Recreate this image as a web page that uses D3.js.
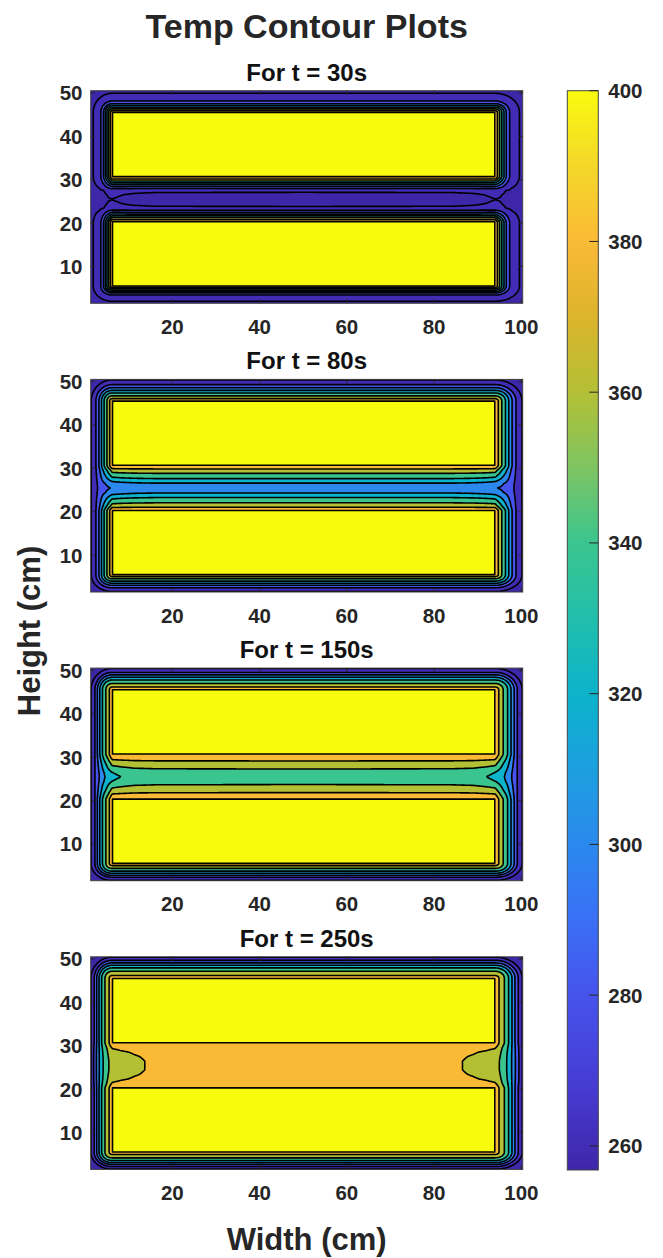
<!DOCTYPE html>
<html><head><meta charset="utf-8">
<script src="https://cdn.jsdelivr.net/npm/d3@7"></script>
<style>body{margin:0;background:#fff}svg{display:block}</style>
</head><body>
<svg id="chart" width="663" height="1258"></svg>
<script>
// ---------------- data ----------------
const panelTitles = ["For t = 30s", "For t = 80s", "For t = 150s", "For t = 250s"];
const xTickValues = [20, 40, 60, 80, 100];
const yTickValues = [10, 20, 30, 40, 50];
const colorbarTicks = [260, 280, 300, 320, 340, 360, 380, 400];
const contourLevels = [260, 280, 300, 320, 340, 360, 380, 400];
const tempRange = [256.8, 400];
const xExtent = [1.3, 100.3];
const yExtent = [1.5, 50.5];
const heaterX = [6.2, 94.0];
const heaterBottomY = [5.5, 20.3];
const heaterTopY = [30.6, 45.5];
const heaterTemp = 400;

// temperature across an outer margin: wall (0) -> heater edge (5)
const marginPos = [0, 1, 2, 3, 4, 4.5, 5];
const marginT30 = [257, 262, 268, 300, 350, 375, 400];
const marginT80 = [258, 274, 302, 336, 366, 382, 400];
const marginT150 = [258, 280, 316, 348, 370, 384, 400];
const marginT250 = [258, 285, 322, 354, 372, 385, 400];

// temperature across the gap between heaters: heater edge (0) -> gap centre (5)
const gapAcrossPos = [0, 1, 2, 3, 4, 5];
const gapAcrossT30 = [400, 355, 305, 261, 258.6, 258];
const gapAcrossT80 = [400, 372, 355, 338, 318, 310];
const gapAcrossT150 = [400, 386, 373, 363, 352, 348];
const gapAcrossT250 = [400, 392, 388, 386, 385, 385];

// temperature along the gap centre line: side wall (0) -> heater end (5) -> middle
const gapAlongPos = [0, 1, 2, 3, 4, 5, 7, 10, 15, 49];
const gapAlongT30 = [257, 257.5, 258, 259, 259.8, 259.95, 259.5, 258.6, 258.1, 258];
const gapAlongT80 = [258, 272, 285, 293, 298, 301, 305, 308, 310, 310];
const gapAlongT150 = [258, 280, 300, 316, 328, 335, 340, 345, 347, 348];
const gapAlongT250 = [258, 290, 320, 342, 358, 366, 372, 377, 383, 385];

// colour map (parula-like) keyed by temperature
const colorStopTemps = [256.8, 262, 270, 280, 290, 300, 310, 320, 330, 340, 350, 360, 370, 380, 390, 400];
const colorStopHex = ["#3e26a8", "#4330bd", "#4640d8", "#4653ec", "#3a6ff6", "#2b89ee", "#1ca0df", "#0cb3cb",
                      "#22bfac", "#3ac58e", "#7ec462", "#b4c034", "#dcb42c", "#fbba36", "#f4d62a", "#f9fb0e"];

// ---------------- layout / style ----------------
const fontFamily = "'Liberation Sans', Arial, Helvetica, sans-serif";
const axLeft = 90.7, axWidth = 432, axHeight = 212.6;
const panelTop0 = 90.7, panelStep = 288.7;
const gridStep = 0.2;
const cornerPower = 2;
const lineWidth = 1.6;
const cb = {x: 567.3, w: 31, top: 90.7, bottom: 1170};

const panels = [
  {title: panelTitles[0], margin: marginT30, across: gapAcrossT30, along: gapAlongT30},
  {title: panelTitles[1], margin: marginT80, across: gapAcrossT80, along: gapAlongT80},
  {title: panelTitles[2], margin: marginT150, across: gapAcrossT150, along: gapAlongT150},
  {title: panelTitles[3], margin: marginT250, across: gapAcrossT250, along: gapAlongT250}
];

const svg = d3.select("#chart");
const colorScale = d3.scaleLinear().domain(colorStopTemps).range(colorStopHex)
  .interpolate(d3.interpolateRgb).clamp(true);

// position relative to heater geometry
function aCoord(x) {
  const [h0, h1] = heaterX, xm = (h0 + h1) / 2;
  if (x <= h0) return 5 * (x - xExtent[0]) / (h0 - xExtent[0]);
  if (x <= xm) return 5 + (x - h0);
  if (x < h1) return 5 + (h1 - x);
  return 5 * (xExtent[1] - x) / (xExtent[1] - h1);
}
function bCoord(y) {
  const [b0, b1] = heaterBottomY, [t0, t1] = heaterTopY, ym = (b1 + t0) / 2;
  if (y <= b0) return 5 * (y - yExtent[0]) / (b0 - yExtent[0]);
  if (y <= b1) return 5 + 15 * (y - b0) / (b1 - b0);
  if (y <= ym) return 20 + 5 * (y - b1) / (ym - b1);
  if (y <= t0) return 20 + 5 * (t0 - y) / (t0 - ym);
  if (y <= t1) return 5 + 15 * (t1 - y) / (t1 - t0);
  return 5 * (yExtent[1] - y) / (yExtent[1] - t1);
}
function makeField(margin, across, along) {
  const Mi = d3.scaleLinear().domain(marginPos).range(margin).clamp(true);
  const GAi = d3.scaleLinear().domain(gapAcrossPos).range(across).clamp(true);
  const GLi = d3.scaleLinear().domain(gapAlongPos).range(along).clamp(true);
  const gc = across[across.length - 1];
  return (x, y) => {
    const a = aCoord(x), b = bCoord(y);
    if (b <= 20) {
      if (b >= 5) return a >= 5 ? heaterTemp : Mi(a);
      if (a >= 5) return Mi(b);
      const dx = 5 - a, dy = 5 - b;
      const d = Math.pow(Math.pow(dx, cornerPower) + Math.pow(dy, cornerPower), 1 / cornerPower);
      return Mi(5 - d);
    }
    const s = (GAi(b - 20) - gc) / (heaterTemp - gc);
    const base = GLi(a);
    const edge = a >= 5 ? heaterTemp : Mi(a);
    return base + (edge - base) * s;
  };
}

const nx = Math.round((xExtent[1] - xExtent[0]) / gridStep) + 1;
const ny = Math.round((yExtent[1] - yExtent[0]) / gridStep) + 1;
const xs = d3.scaleLinear().domain(xExtent).range([axLeft, axLeft + axWidth]);

panels.forEach((pd, i) => {
  const top = panelTop0 + i * panelStep;
  const ys = d3.scaleLinear().domain(yExtent).range([top + axHeight, top]);
  const field = makeField(pd.margin, pd.across, pd.along);
  const values = new Float64Array(nx * ny);
  for (let j = 0; j < ny; j++) {
    const y = yExtent[0] + j * gridStep;
    for (let k = 0; k < nx; k++) values[j * nx + k] = field(xExtent[0] + k * gridStep, y);
  }
  const contours = d3.contours().size([nx, ny]).thresholds(contourLevels)(values);
  const proj = d3.geoTransform({point(gx, gy) {
    this.stream.point(xs(xExtent[0] + (gx - 0.5) * gridStep), ys(yExtent[0] + (gy - 0.5) * gridStep));
  }});
  const path = d3.geoPath(proj);

  const clipId = "clip" + i;
  svg.append("clipPath").attr("id", clipId).append("rect")
    .attr("x", axLeft).attr("y", top).attr("width", axWidth).attr("height", axHeight);
  const g = svg.append("g").attr("clip-path", `url(#${clipId})`);
  g.append("rect").attr("x", axLeft).attr("y", top).attr("width", axWidth).attr("height", axHeight)
    .attr("fill", colorScale(tempRange[0]));
  g.selectAll("path.fill").data(contours).join("path").attr("class", "fill")
    .attr("d", path).attr("fill", d => colorScale(d.value)).attr("stroke", "none");
  g.selectAll("path.line").data(contours).join("path").attr("class", "line")
    .attr("d", path).attr("fill", "none").attr("stroke", "#000").attr("stroke-width", lineWidth)
    .attr("stroke-linejoin", "round");

  // axes box & ticks
  const ax = svg.append("g");
  ax.append("rect").attr("x", axLeft).attr("y", top).attr("width", axWidth).attr("height", axHeight)
    .attr("fill", "none").attr("stroke", "#3a3a3a").attr("stroke-width", 1);
  xTickValues.forEach(v => {
    const x = xs(v);
    ax.append("line").attr("x1", x).attr("x2", x).attr("y1", top + axHeight).attr("y2", top + axHeight - 4)
      .attr("stroke", "#262626");
    ax.append("line").attr("x1", x).attr("x2", x).attr("y1", top).attr("y2", top + 4).attr("stroke", "#262626");
    ax.append("text").attr("x", x).attr("y", top + axHeight + 30.5).attr("text-anchor", "middle")
      .attr("font-family", fontFamily).attr("font-weight", "bold").attr("font-size", 20.5)
      .attr("fill", "#262626").text(v);
  });
  yTickValues.forEach(v => {
    const y = ys(v);
    ax.append("line").attr("x1", axLeft).attr("x2", axLeft + 4).attr("y1", y).attr("y2", y).attr("stroke", "#262626");
    ax.append("line").attr("x1", axLeft + axWidth).attr("x2", axLeft + axWidth - 4).attr("y1", y).attr("y2", y)
      .attr("stroke", "#262626");
    ax.append("text").attr("x", 82.5).attr("y", y + 7.5).attr("text-anchor", "end")
      .attr("font-family", fontFamily).attr("font-weight", "bold").attr("font-size", 20.5)
      .attr("fill", "#262626").text(v);
  });
  svg.append("text").attr("x", axLeft + axWidth / 2).attr("y", top - 10).attr("text-anchor", "middle")
    .attr("font-family", fontFamily).attr("font-weight", "bold").attr("font-size", 24)
    .attr("fill", "#111").text(pd.title);
});

// colour bar
const cbScale = d3.scaleLinear().domain(tempRange).range([cb.bottom, cb.top]);
const defs = svg.append("defs");
const grad = defs.append("linearGradient").attr("id", "cbGrad")
  .attr("x1", 0).attr("y1", 1).attr("x2", 0).attr("y2", 0);
d3.range(0, 1.0001, 1 / 60).forEach(t => {
  const v = tempRange[0] + t * (tempRange[1] - tempRange[0]);
  grad.append("stop").attr("offset", t).attr("stop-color", colorScale(v));
});
svg.append("rect").attr("x", cb.x).attr("y", cb.top).attr("width", cb.w).attr("height", cb.bottom - cb.top)
  .attr("fill", "url(#cbGrad)").attr("stroke", "#444").attr("stroke-width", 1);
colorbarTicks.forEach(v => {
  const y = cbScale(v);
  svg.append("line").attr("x1", cb.x + cb.w).attr("x2", cb.x + cb.w - 9).attr("y1", y).attr("y2", y)
    .attr("stroke", "#262626").attr("stroke-width", 1);
  svg.append("text").attr("x", cb.x + cb.w + 10).attr("y", y + 7.5)
    .attr("font-family", fontFamily).attr("font-weight", "bold").attr("font-size", 20.5)
    .attr("fill", "#262626").text(v);
});

// titles & axis labels
svg.append("text").attr("x", axLeft + axWidth / 2).attr("y", 38).attr("text-anchor", "middle")
  .attr("font-family", fontFamily).attr("font-weight", "bold").attr("font-size", 34)
  .attr("fill", "#262626").text("Temp Contour Plots");
svg.append("text").attr("x", axLeft + axWidth / 2).attr("y", 1250).attr("text-anchor", "middle")
  .attr("font-family", fontFamily).attr("font-weight", "bold").attr("font-size", 31)
  .attr("fill", "#262626").text("Width (cm)");
svg.append("text").attr("transform", "translate(40,631) rotate(-90)").attr("text-anchor", "middle")
  .attr("font-family", fontFamily).attr("font-weight", "bold").attr("font-size", 31)
  .attr("fill", "#262626").text("Height (cm)");
</script>
</body></html>
